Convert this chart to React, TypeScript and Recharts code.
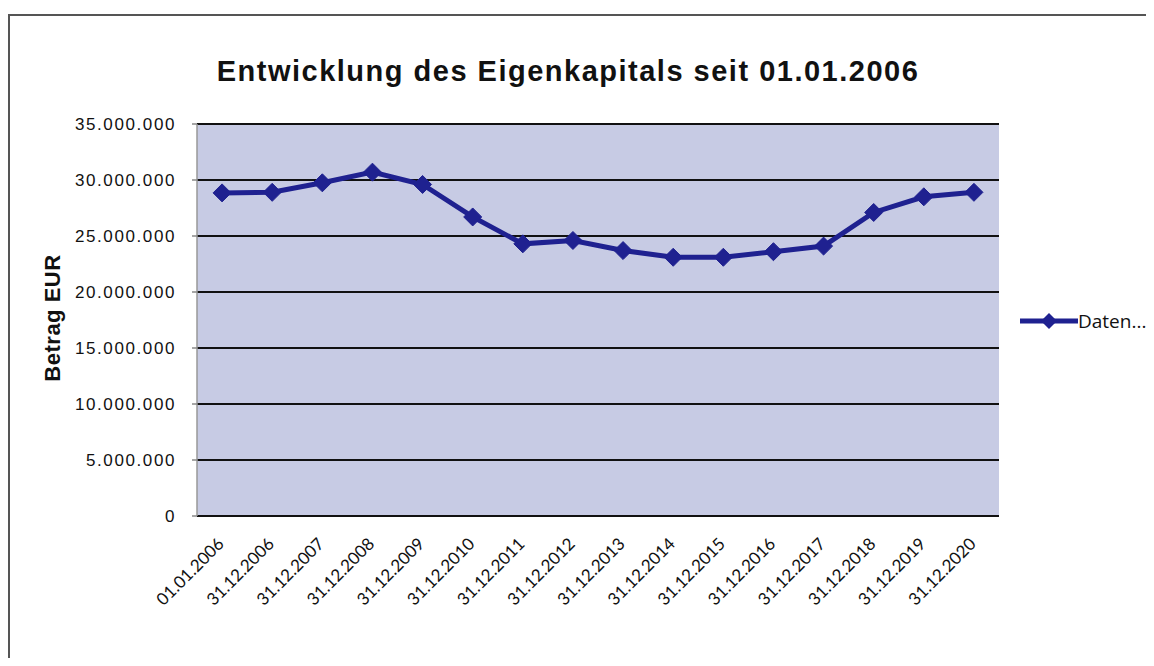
import React from "react";
import {
  LineChart,
  Line,
  XAxis,
  YAxis,
  CartesianGrid,
  Legend,
} from "recharts";

const dates: string[] = [
  "01.01.2006",
  "31.12.2006",
  "31.12.2007",
  "31.12.2008",
  "31.12.2009",
  "31.12.2010",
  "31.12.2011",
  "31.12.2012",
  "31.12.2013",
  "31.12.2014",
  "31.12.2015",
  "31.12.2016",
  "31.12.2017",
  "31.12.2018",
  "31.12.2019",
  "31.12.2020",
];

const equity: number[] = [
  28850000, 28900000, 29750000, 30700000, 29600000, 26700000, 24300000,
  24600000, 23700000, 23100000, 23100000, 23600000, 24100000, 27100000,
  28500000, 28900000,
];

const yTicks: number[] = [
  0, 5000000, 10000000, 15000000, 20000000, 25000000, 30000000, 35000000,
];

const seriesName = "Daten...";
const title = "Entwicklung des Eigenkapitals seit 01.01.2006";
const yTitle = "Betrag EUR";

const NAVY = "#1f2190";
const ARIAL = "'Liberation Sans', Arial, sans-serif";

// position on a numeric axis so the labels sit between boundary tick marks
const data = dates.map((d, i) => ({ pos: i + 0.5, date: d, value: equity[i] }));
const boundaryTicks = dates.map((_, i) => i).concat(dates.length);
const centerTicks = data.map((d) => d.pos);

const fmt = (v: number) => String(v).replace(/\B(?=(\d{3})+(?!\d))/g, ".");

const Diamond = (props: any) => {
  const { cx, cy } = props;
  if (cx == null || cy == null) return null;
  const r = 9;
  return (
    <path
      d={`M${cx},${cy - r}L${cx + r},${cy}L${cx},${cy + r}L${cx - r},${cy}Z`}
      fill={NAVY}
      stroke={NAVY}
    />
  );
};

const DateTick = (props: any) => {
  const { x, y, payload } = props;
  const d = data.find((p) => p.pos === payload.value);
  return (
    <g transform={`translate(${x + 3},${y + 21})`}>
      <text
        textAnchor="end"
        transform="rotate(-45)"
        style={{ fontFamily: "Lato, 'Open Sans', sans-serif", fontSize: 17 }}
        fill="#111"
      >
        {d ? d.date : ""}
      </text>
    </g>
  );
};

const LegendBox = () => (
  <div style={{ display: "flex", alignItems: "center", whiteSpace: "nowrap" }}>
    <svg width={58} height={20}>
      <line x1={0} y1={10} x2={58} y2={10} stroke={NAVY} strokeWidth={5} />
      <path d="M29,2L37,10L29,18L21,10Z" fill={NAVY} />
    </svg>
    <span
      style={{
        fontFamily: "'Open Sans', sans-serif",
        fontSize: 19,
        color: "#111",
      }}
    >
      {seriesName}
    </span>
  </div>
);

export default function App() {
  return (
    <div style={{ position: "relative", width: 1146, height: 650 }}>
      <div
        style={{
          position: "absolute",
          left: 0,
          top: 6,
          width: 1144,
          height: 644,
          borderLeft: "2px solid #555",
          borderTop: "2px solid #555",
          borderBottom: "2px solid #555",
        }}
      />
      <LineChart
        width={1146}
        height={650}
        data={data}
        margin={{ top: 116, right: 155, bottom: 0, left: 60 }}
        style={{ position: "absolute", left: 0, top: 0 }}
      >
        <text
          x={560}
          y={73}
          textAnchor="middle"
          style={{
            fontFamily: ARIAL,
            fontWeight: "bold",
            fontSize: 29,
            letterSpacing: 1.5,
          }}
          fill="#111"
        >
          {title}
        </text>
        <text
          x={52}
          y={310}
          textAnchor="middle"
          transform="rotate(-90, 52, 310)"
          style={{
            fontFamily: ARIAL,
            fontWeight: "bold",
            fontSize: 22,
            letterSpacing: 0.5,
          }}
          fill="#111"
        >
          {yTitle}
        </text>
        <CartesianGrid
          xAxisId="cat"
          yAxisId="left"
          vertical={false}
          stroke="#111"
          strokeWidth={2}
          fill="#c7cbe4"
          fillOpacity={1}
          strokeOpacity={1}
        />
        <XAxis
          xAxisId="marks"
          type="number"
          domain={[0, dates.length]}
          ticks={boundaryTicks}
          tick={false}
          height={0}
          tickSize={8}
          axisLine={{ stroke: "#777", strokeWidth: 1.5 }}
          tickLine={{ stroke: "#666", strokeWidth: 1.5 }}
        />
        <XAxis
          xAxisId="cat"
          dataKey="pos"
          type="number"
          domain={[0, dates.length]}
          ticks={centerTicks}
          interval={0}
          axisLine={false}
          tickLine={false}
          height={142}
          tick={<DateTick />}
        />
        <YAxis
          yAxisId="left"
          domain={[0, 35000000]}
          ticks={yTicks}
          width={129}
          tickSize={5}
          tickMargin={16}
          tickFormatter={fmt}
          axisLine={{ stroke: "#999", strokeWidth: 1.5 }}
          tickLine={{ stroke: "#888", strokeWidth: 1.5 }}
          tick={{
            fill: "#111",
            fontSize: 17,
            fontFamily: ARIAL,
            letterSpacing: 1.6,
          }}
        />
        <YAxis
          yAxisId="right"
          orientation="right"
          domain={[0, 35000000]}
          width={0}
          tick={false}
          tickLine={false}
          axisLine={{ stroke: "#111", strokeWidth: 2.5 }}
        />
        <Legend
          layout="horizontal"
          align="center"
          verticalAlign="middle"
          content={<LegendBox />}
          wrapperStyle={{ left: 1012, top: 300, width: 134 }}
        />
        <Line
          xAxisId="cat"
          yAxisId="left"
          type="linear"
          dataKey="value"
          name={seriesName}
          stroke={NAVY}
          strokeWidth={5}
          dot={<Diamond />}
          activeDot={false}
          isAnimationActive={false}
        />
      </LineChart>
    </div>
  );
}
